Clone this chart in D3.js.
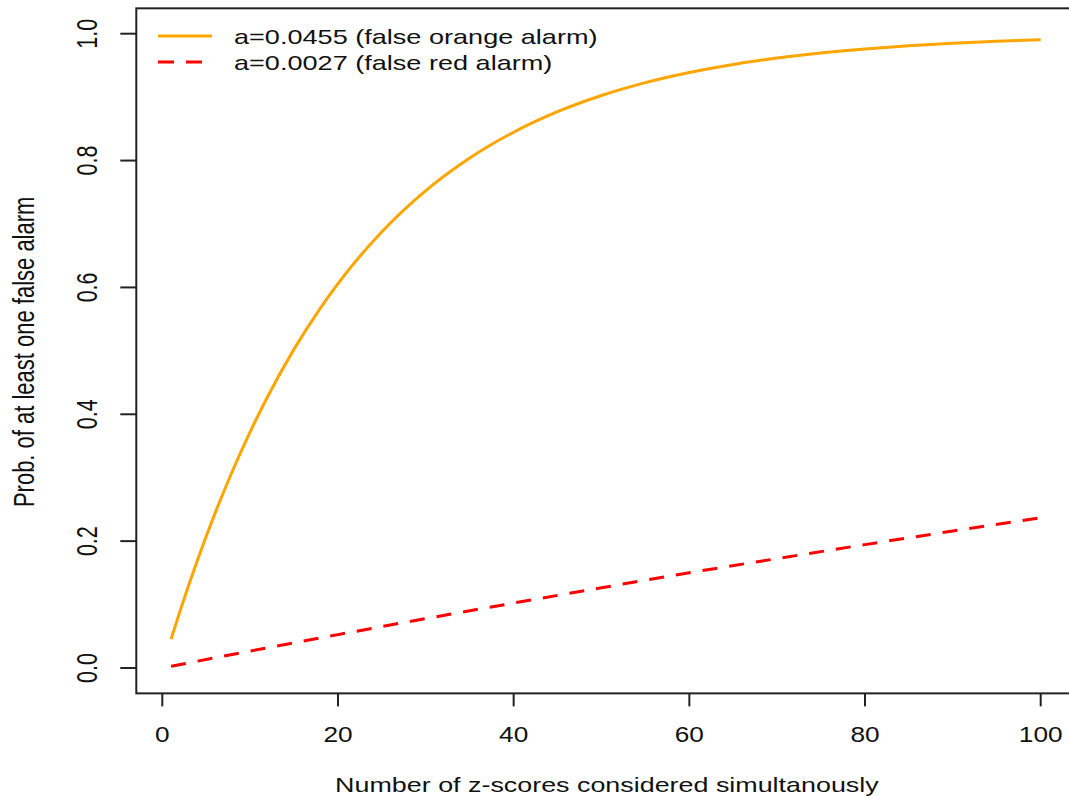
<!DOCTYPE html>
<html lang="en">

<head>
  <meta charset="UTF-8">
  <title>False alarm probability</title>
  <script src="https://cdn.jsdelivr.net/npm/d3@7"></script>
  <style>
    body { margin: 0; background: #fff; }
    text { font-family: "Liberation Sans", Arial, sans-serif; fill: #111; }
  </style>
</head>

<body>
</body>
<script>
  const svgWidth = 1069
  const svgHeight = 796

  // number of z-scores (x) and the two curves
  const nValues = [1, 2, 3, 4, 5, 6, 8, 10, 12, 15, 18, 20, 25, 30, 35, 40, 45, 50, 55, 60, 65, 70, 75, 80, 85, 90, 95, 100]
  const orangeValues = [0.0455, 0.0889, 0.1304, 0.1699, 0.2077, 0.2438, 0.3110, 0.3723, 0.4281, 0.5027, 0.5675, 0.6060, 0.6878, 0.7527, 0.8040, 0.8447, 0.8770, 0.9025, 0.9228, 0.9388, 0.9515, 0.9616, 0.9696, 0.9759, 0.9809, 0.9849, 0.9880, 0.9905]
  const redN = [1, 10, 20, 30, 40, 50, 60, 70, 80, 90, 100]
  const redValues = [0.0027, 0.0267, 0.0526, 0.0779, 0.1024, 0.1265, 0.1502, 0.1725, 0.1945, 0.2160, 0.2369]

  const xTicks = [0, 20, 40, 60, 80, 100]
  const yTicks = [0.0, 0.2, 0.4, 0.6, 0.8, 1.0]
  const legendLabels = ["a=0.0455 (false orange alarm)", "a=0.0027 (false red alarm)"]
  const seriesColors = ["#FFA500", "#FF0000"]

  const svg = d3.select("body").append("svg")
    .attr("width", svgWidth)
    .attr("height", svgHeight)

  // scales (R style: 4% padding around the data range)
  const x = d3.scaleLinear().domain([0, 100]).range([162.3, 1040.7])
  const y = d3.scaleLinear().domain([0, 1]).range([668, 33.7])

  const boxLeft = x(-2.96), boxRight = x(103.96)
  const boxTop = y(1.04), boxBottom = y(-0.04)
  const sx = 1.28  // the picture is a bit stretched sideways

  // plot box
  svg.append("rect")
    .attr("x", boxLeft)
    .attr("y", boxTop)
    .attr("width", boxRight - boxLeft)
    .attr("height", boxBottom - boxTop)
    .attr("fill", "none")
    .attr("stroke", "#222")
    .attr("stroke-width", 2)

  // x axis ticks
  const gx = svg.append("g")
  gx.selectAll("line")
    .data(xTicks)
    .enter()
    .append("line")
    .attr("x1", d => x(d)).attr("x2", d => x(d))
    .attr("y1", boxBottom).attr("y2", boxBottom + 13)
    .attr("stroke", "#222")
    .attr("stroke-width", 2)
  gx.selectAll("text")
    .data(xTicks)
    .enter()
    .append("text")
    .attr("transform", d => `translate(${x(d)},742) scale(1.22,1)`)
    .attr("text-anchor", "middle")
    .attr("font-size", 21.5)
    .text(d => d)

  // y axis ticks
  const gy = svg.append("g")
  gy.selectAll("line")
    .data(yTicks)
    .enter()
    .append("line")
    .attr("x1", boxLeft - 16).attr("x2", boxLeft)
    .attr("y1", d => y(d)).attr("y2", d => y(d))
    .attr("stroke", "#222")
    .attr("stroke-width", 2)
  gy.selectAll("text")
    .data(yTicks)
    .enter()
    .append("text")
    .attr("transform", d => `translate(87,${y(d)}) scale(1.35,1) rotate(-90)`)
    .attr("text-anchor", "middle")
    .attr("dominant-baseline", "central")
    .attr("font-size", 21.5)
    .text(d => d.toFixed(1))

  // axis titles
  svg.append("text")
    .attr("transform", `translate(${(boxLeft + boxRight) / 2 + 1},792) scale(${sx},1)`)
    .attr("text-anchor", "middle")
    .attr("font-size", 21)
    .text("Number of z-scores considered simultanously")

  svg.append("text")
    .attr("transform", `translate(23.5,${(y(0) + y(1)) / 2 + 1}) scale(1.3,1) rotate(-90)`)
    .attr("text-anchor", "middle")
    .attr("dominant-baseline", "central")
    .attr("font-size", 22)
    .text("Prob. of at least one false alarm")

  // curves
  const line = d3.line()
    .x(d => x(d[0]))
    .y(d => y(d[1]))
    .curve(d3.curveMonotoneX)

  svg.append("path")
    .attr("d", line(nValues.map((n, i) => [n, orangeValues[i]])))
    .attr("fill", "none")
    .attr("stroke", seriesColors[0])
    .attr("stroke-width", 3)

  svg.append("path")
    .attr("d", line(redN.map((n, i) => [n, redValues[i]])))
    .attr("fill", "none")
    .attr("stroke", seriesColors[1])
    .attr("stroke-width", 3)
    .attr("stroke-dasharray", "15,12")

  // legend
  const legend = svg.append("g")
  const lg = legend.selectAll("g")
    .data(legendLabels)
    .enter()
    .append("g")
    .attr("transform", (d, i) => `translate(158,${36 + i * 26})`)

  lg.append("line")
    .attr("x1", 0).attr("x2", 54)
    .attr("y1", 0).attr("y2", 0)
    .attr("stroke", (d, i) => seriesColors[i])
    .attr("stroke-width", 3)
    .attr("stroke-dasharray", (d, i) => i === 1 ? "16,12" : null)

  lg.append("text")
    .attr("transform", `translate(76,8) scale(1.355,1)`)
    .attr("font-size", 20)
    .text(d => d)
</script>

</html>
